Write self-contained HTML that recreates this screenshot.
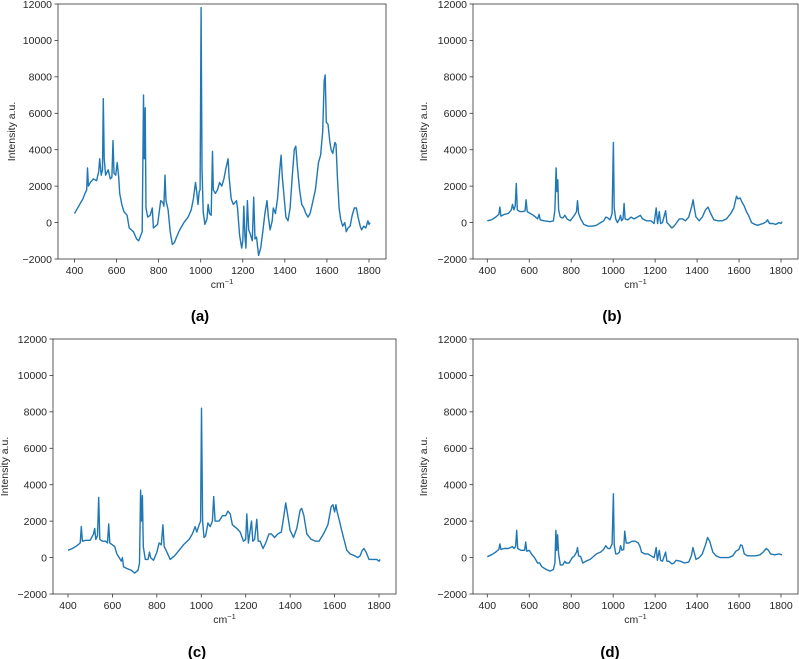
<!DOCTYPE html>
<html><head><meta charset="utf-8"><style>
body{margin:0;background:#fff;font-family:"Liberation Sans","DejaVu Sans",sans-serif;}
svg{display:block}
</style></head><body>
<svg id="fig" width="799" height="659" viewBox="0 0 799 659" xmlns="http://www.w3.org/2000/svg"></svg>
<script>
const xTicks=[400,600,800,1000,1200,1400,1600,1800];
const yTicks=[-2000,0,2000,4000,6000,8000,10000,12000];
const yTickLabels=["\u22122000","0","2000","4000","6000","8000","10000","12000"];
const panelLabels=["(a)","(b)","(c)","(d)"];
const seriesA=[[400,500],[410,700],[420,900],[430,1100],[440,1300],[450,1600],[458,1800],[462,3000],[466,2000],[475,2200],[490,2400],[505,2300],[515,2800],[520,3500],[527,2600],[533,2900],[537,6800],[541,3500],[548,2600],[560,2900],[570,2400],[578,2500],[583,4500],[588,2700],[596,2600],[603,3300],[610,2500],[615,1600],[625,1000],[635,600],[650,400],[660,-300],[680,-500],[695,-900],[705,-1000],[715,-700],[722,-500],[728,7000],[732,3500],[736,6300],[740,800],[748,300],[760,400],[770,800],[775,-300],[785,-200],[795,-100],[810,1200],[820,1100],[825,900],[830,2600],[835,1200],[845,700],[855,-500],[865,-1200],[875,-1100],[885,-800],[900,-400],[920,0],[940,300],[955,700],[965,1300],[975,2200],[980,1800],[987,1000],[993,1700],[997,1800],[1002,11800],[1006,3000],[1012,600],[1020,-100],[1030,200],[1035,1000],[1042,500],[1050,400],[1056,3900],[1060,1800],[1070,1600],[1080,1800],[1090,2200],[1100,2000],[1110,2400],[1120,3000],[1130,3500],[1135,2500],[1145,1300],[1155,1000],[1170,1200],[1175,800],[1185,-700],[1195,-1400],[1200,-1000],[1205,900],[1210,-700],[1215,-1400],[1222,1200],[1228,-400],[1235,-600],[1245,-1000],[1252,1400],[1258,-900],[1265,-800],[1275,-1800],[1285,-1400],[1295,-500],[1305,500],[1315,1200],[1322,300],[1330,-400],[1340,100],[1345,800],[1355,500],[1365,1300],[1375,2800],[1382,3700],[1388,2500],[1395,1600],[1405,300],[1415,100],[1425,800],[1435,2500],[1445,4000],[1452,4200],[1460,3000],[1470,1800],[1480,1000],[1490,800],[1500,500],[1510,300],[1520,500],[1530,1000],[1545,1800],[1560,3300],[1570,3700],[1580,5000],[1587,7800],[1592,8100],[1597,5500],[1605,5400],[1613,4500],[1620,4000],[1628,3800],[1638,4400],[1643,4300],[1650,2500],[1658,800],[1665,200],[1675,-200],[1685,0],[1692,-500],[1700,-300],[1710,-200],[1720,400],[1730,800],[1740,800],[1748,300],[1758,-200],[1765,-400],[1775,-200],[1785,-300],[1795,100],[1800,-100],[1805,0]];
const seriesB=[[400,100],[420,150],[440,300],[455,450],[460,850],[465,350],[480,450],[500,500],[515,700],[520,1000],[527,700],[533,900],[538,2150],[543,700],[555,600],[570,600],[580,650],[585,1250],[590,600],[605,500],[620,400],[640,200],[647,450],[652,150],[670,100],[700,50],[715,100],[722,700],[728,3000],[732,1700],[736,2350],[740,700],[748,300],[760,250],[770,400],[780,200],[795,100],[805,250],[815,400],[825,600],[830,1200],[835,500],[845,200],[860,-100],[880,-200],[900,-200],[920,-150],[940,0],[955,100],[965,300],[975,250],[985,150],[995,500],[1001,4400],[1005,800],[1012,200],[1020,0],[1030,200],[1035,400],[1040,100],[1047,200],[1052,1050],[1057,200],[1070,150],[1085,300],[1100,200],[1115,300],[1130,400],[1140,200],[1160,100],[1180,100],[1195,-50],[1205,800],[1212,-50],[1220,600],[1226,-50],[1235,0],[1250,650],[1256,0],[1265,-100],[1280,-300],[1290,-200],[1300,-50],[1315,200],[1330,200],[1345,100],[1360,300],[1375,900],[1381,1250],[1388,700],[1395,300],[1410,100],[1425,300],[1440,700],[1452,850],[1465,500],[1480,150],[1500,100],[1520,100],[1540,200],[1560,500],[1575,800],[1588,1450],[1595,1300],[1605,1350],[1615,1100],[1625,900],[1635,600],[1645,400],[1660,0],[1675,-100],[1690,-150],[1700,-100],[1715,-50],[1730,50],[1736,150],[1745,-50],[1760,-50],[1775,-100],[1790,0],[1800,-50],[1805,50]];
const seriesC=[[400,400],[420,500],[440,650],[455,800],[460,1700],[465,900],[480,950],[500,950],[515,1300],[520,1600],[525,1000],[533,1200],[538,3300],[543,1000],[555,900],[570,900],[578,800],[583,1850],[588,800],[600,700],[610,600],[620,200],[640,-200],[645,0],[650,-500],[665,-600],[685,-700],[700,-850],[715,-700],[722,-300],[727,3700],[731,2000],[735,3400],[739,600],[748,-100],[760,-100],[767,300],[772,0],[785,-150],[800,300],[810,800],[820,700],[827,1800],[833,600],[845,300],[860,-100],[880,100],[900,400],[920,700],[945,1000],[960,1300],[972,1700],[980,1400],[990,1800],[997,2000],[1001,8200],[1006,2000],[1012,1100],[1020,1200],[1030,1900],[1040,1700],[1050,2000],[1056,3350],[1062,2000],[1080,2000],[1095,2300],[1110,2300],[1120,2550],[1130,2400],[1140,1800],[1160,1600],[1175,1400],[1190,900],[1200,1000],[1205,2400],[1212,800],[1220,1500],[1226,2000],[1232,900],[1240,1000],[1250,2100],[1256,900],[1265,900],[1278,500],[1290,800],[1305,1300],[1315,1300],[1330,1100],[1345,1300],[1360,1400],[1372,2300],[1380,3000],[1388,2400],[1400,1500],[1415,1100],[1430,1600],[1445,2600],[1452,2700],[1462,2300],[1475,1300],[1495,1000],[1515,900],[1530,900],[1550,1300],[1570,1800],[1585,2800],[1593,2900],[1600,2500],[1606,2900],[1612,2500],[1622,2000],[1630,1600],[1640,1100],[1655,400],[1670,200],[1690,100],[1705,0],[1715,100],[1725,400],[1732,500],[1742,300],[1755,-100],[1770,-100],[1790,-100],[1800,-200],[1805,-100]];
const seriesD=[[400,50],[420,150],[440,300],[455,450],[460,750],[465,450],[480,500],[500,500],[520,600],[527,500],[535,600],[540,1500],[545,500],[560,400],[578,400],[583,850],[588,350],[600,400],[610,200],[625,0],[640,-300],[650,-300],[660,-500],[680,-650],[700,-750],[715,-650],[722,-300],[727,1500],[731,400],[735,1250],[740,200],[748,-400],[760,-400],[770,-200],[775,-300],[790,-300],[805,0],[815,100],[825,300],[830,550],[835,100],[845,50],[855,-300],[870,-200],[890,-100],[900,0],[920,200],[940,300],[955,450],[965,650],[975,500],[985,500],[995,750],[1001,3500],[1005,700],[1012,200],[1020,200],[1030,300],[1035,650],[1042,400],[1050,450],[1055,1450],[1062,800],[1075,800],[1090,900],[1105,900],[1120,800],[1128,600],[1135,300],[1150,200],[1165,200],[1180,100],[1195,0],[1205,550],[1211,-150],[1220,400],[1226,-150],[1235,-200],[1250,300],[1256,-200],[1265,-200],[1280,-350],[1290,-300],[1300,-150],[1320,-200],[1340,-300],[1360,-250],[1373,100],[1380,550],[1388,200],[1395,-100],[1410,0],[1425,200],[1440,700],[1450,1100],[1460,900],[1475,300],[1490,100],[1510,0],[1530,0],[1550,0],[1570,100],[1585,350],[1600,450],[1608,700],[1615,650],[1625,200],[1640,100],[1660,100],[1680,100],[1700,150],[1715,300],[1730,500],[1740,400],[1750,200],[1770,150],[1790,200],[1805,150]];

const NS="http://www.w3.org/2000/svg";
const svg=document.getElementById('fig');
function mk(tag,attrs,parent){const e=document.createElementNS(NS,tag);for(const k in attrs)e.setAttribute(k,attrs[k]);(parent||svg).appendChild(e);return e;}
const panels=[
 {s:seriesA,L:58,R:386,T:4,B:259,x400:74.5,x1800:369,ylab:15,lx:200,ly:321,xl:288,key:'a'},
 {s:seriesB,L:473,R:798,T:4,B:259,x400:487.3,x1800:781,ylab:427,lx:612,ly:321,xl:288,key:'b'},
 {s:seriesC,L:53,R:396,T:339,B:594,x400:68,x1800:379,ylab:8,lx:197,ly:657,xl:623,key:'c'},
 {s:seriesD,L:473,R:798,T:339,B:594,x400:487.3,x1800:781,ylab:427,lx:610,ly:657,xl:623,key:'d'}
];
panels.forEach((p,i)=>{
 const g=mk('g',{});
 
 
 const xs=v=>p.x400+(v-400)*(p.x1800-p.x400)/1400;
 const ys=v=>p.B-(v+2000)*(p.B-p.T)/14000;
 const frame=mk('rect',{x:p.L,y:p.T,width:p.R-p.L,height:p.B-p.T,fill:'none',stroke:'#333','stroke-width':0.8},g);
 
 
 xTicks.forEach(t=>{
  const x=xs(t);
  mk('line',{x1:x,x2:x,y1:p.B,y2:p.B+3.5,stroke:'#333','stroke-width':0.8},g);
  const tx=mk('text',{x:x,y:p.B+15,'font-size':10.5,'text-anchor':'middle',fill:'#262626'},g);
  tx.textContent=t;
  
  
 });
 yTicks.forEach((t,j)=>{
  const y=ys(t);
  mk('line',{x1:p.L-3.5,x2:p.L,y1:y,y2:y,stroke:'#333','stroke-width':0.8},g);
  const ty=mk('text',{x:p.L-6,y:y+3.8,'font-size':10.5,'text-anchor':'end',fill:'#262626'},g);
  ty.textContent=yTickLabels[j];
  
  
 });
 const xl=mk('text',{x:(p.L+p.R)/2,y:p.xl,'font-size':10.5,'text-anchor':'middle',fill:'#262626'},g);
 xl.innerHTML='cm<tspan dy="-4" font-size="7.5">\u22121</tspan>';
 
 
 const cy=(p.T+p.B)/2;
 const yl=mk('text',{x:p.ylab,y:cy,'font-size':10.5,'text-anchor':'middle',fill:'#262626',transform:`rotate(-90 ${p.ylab} ${cy})`},g);
 yl.textContent='Intensity a.u.';
 
 
 const d=p.s.map((pt,k)=>(k?'L':'M')+xs(pt[0]).toFixed(1)+' '+ys(pt[1]).toFixed(1)).join('');
 const line=mk('path',{d:d,fill:'none',stroke:'#1f77b4','stroke-width':1.4,'stroke-linejoin':'round'},g);
 
 
 const lab=mk('text',{x:p.lx,y:p.ly,'font-size':15,'font-weight':'bold','text-anchor':'middle',fill:'#000'},g);
 lab.textContent=panelLabels[i];
 
 
});
</script>
</body></html>
